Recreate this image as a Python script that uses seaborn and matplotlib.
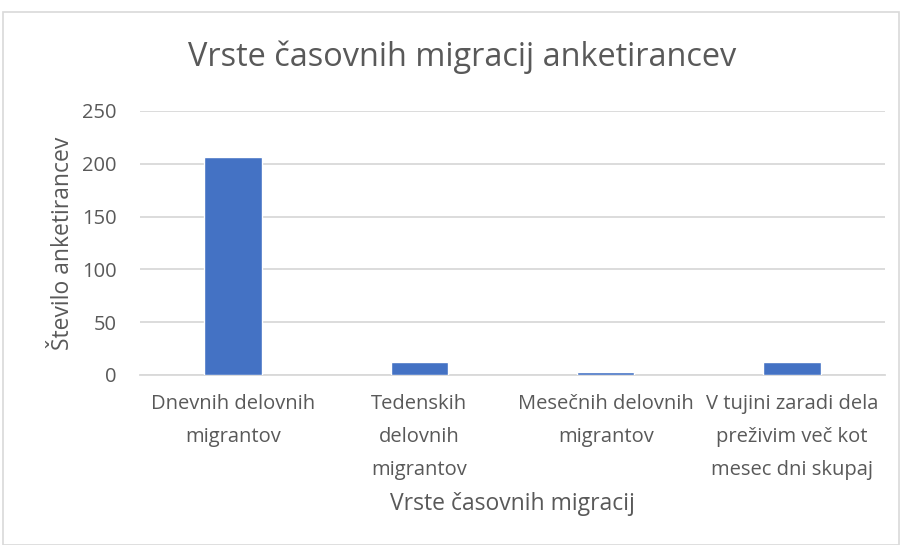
import matplotlib
matplotlib.use("Agg")
import matplotlib.pyplot as plt
import seaborn as sns
import pandas as pd
from matplotlib.patches import Rectangle

categories = ["Dnevnih delovnih\nmigrantov", "Tedenskih\ndelovnih\nmigrantov",
              "Mesečnih delovnih\nmigrantov", "V tujini zaradi dela\npreživim več kot\nmesec dni skupaj"]
values = [206, 12, 3, 12]
y_ticks = [0, 50, 100, 150, 200, 250]

title = "Vrste časovnih migracij anketirancev"
xlabel = "Vrste časovnih migracij"
ylabel = "Število anketirancev"

sns.set_theme(style="white")
plt.rcParams['font.family'] = ['Open Sans', 'DejaVu Sans']
TXT = "#595959"
FS = 14.5
FL = 16.5

df = pd.DataFrame({"cat": categories, "val": values})

fig = plt.figure(figsize=(9.02, 5.45), dpi=100)
ax = fig.add_axes([140/902, 1-375/545, 745/902, 264/545])
sns.barplot(data=df, x="cat", y="val", color="#4472C4", width=0.31, ax=ax, saturation=1, zorder=3)
ax.set_ylim(0, 250)
ax.set_yticks(y_ticks)
ax.yaxis.grid(True, color="#D9D9D9", linewidth=1.3, zorder=0)
ax.set_axisbelow(True)
for s in ["top", "right", "left"]:
    ax.spines[s].set_visible(False)
ax.spines["bottom"].set_color("#D9D9D9")
ax.spines["bottom"].set_linewidth(1.3)
ax.tick_params(axis="both", length=0, colors=TXT, labelsize=FS)
ax.tick_params(axis="y", pad=17)
ax.tick_params(axis="x", pad=14)
for lbl in ax.get_xticklabels():
    lbl.set_linespacing(1.85)
    lbl.set_multialignment("center")
ax.set_xlabel(xlabel, color=TXT, fontsize=FL, labelpad=9)
ax.set_ylabel(ylabel, color=TXT, fontsize=FL, labelpad=5)
fig.text(462/902, 1-57/545, title, ha="center", va="center", color=TXT, fontsize=23.4)

fig.patches.append(Rectangle((3/902, 0), 896/902, 1-12/545, transform=fig.transFigure,
                             fill=False, edgecolor="#D9D9D9", linewidth=1.2))
fig.savefig("out.png", dpi=100)
